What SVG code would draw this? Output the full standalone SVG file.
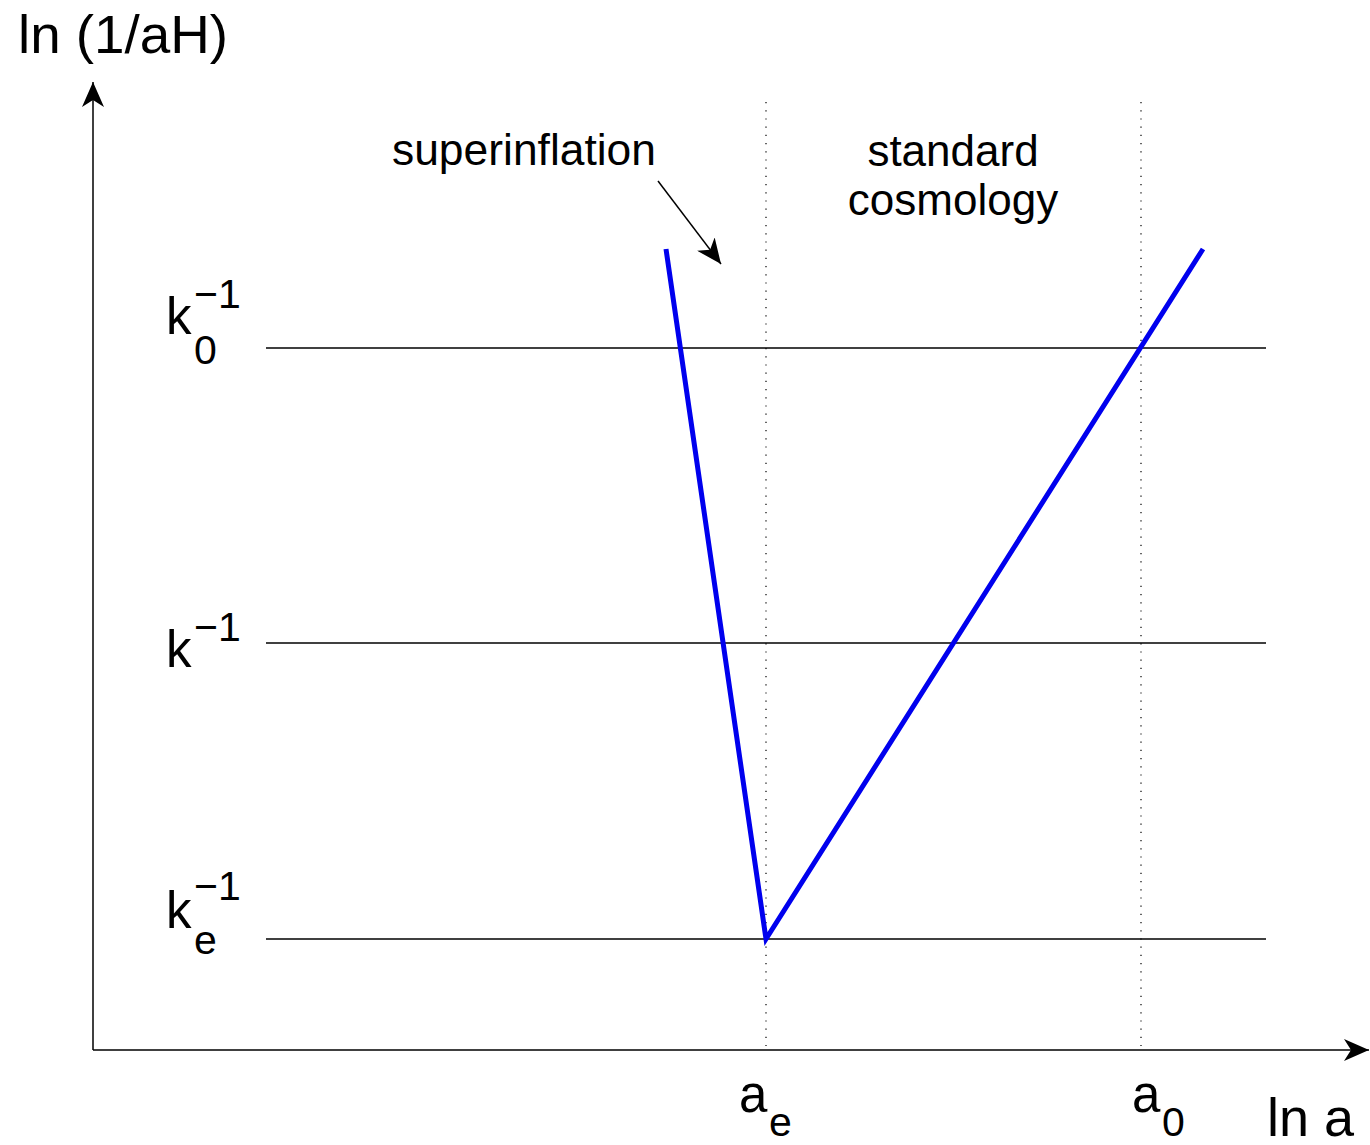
<svg xmlns="http://www.w3.org/2000/svg" width="1370" height="1145" viewBox="0 0 1370 1145">
<style>
text{font-family:"Liberation Sans",Arial,sans-serif;fill:#000}
.big{font-size:54px}
.lab{font-size:44px}
.k{font-size:51px}
.sup{font-size:41px}
.ax{stroke:#000;stroke-width:1.5;fill:none}
.hl{stroke:#000;stroke-width:1.3;fill:none}
.dot{stroke:#000;stroke-width:1.2;stroke-dasharray:1.2 7;fill:none}
</style>
<defs>
<marker id="ah" markerWidth="26" markerHeight="22" refX="25" refY="11" orient="auto" markerUnits="userSpaceOnUse">
<path d="M0,0 L25,11 L0,22 L7,11 Z" fill="#000"/>
</marker>
</defs>
<rect width="1370" height="1145" fill="#fff"/>
<g id="connectors">
<line class="ax" x1="93" y1="1050" x2="93" y2="82" marker-end="url(#ah)"/>
<line class="ax" x1="93" y1="1050" x2="1369" y2="1050" marker-end="url(#ah)"/>
<line class="hl" x1="266" y1="348" x2="1266" y2="348"/>
<line class="hl" x1="266" y1="643" x2="1266" y2="643"/>
<line class="hl" x1="266" y1="939" x2="1266" y2="939"/>
<line class="dot" x1="766" y1="102" x2="766" y2="1046"/>
<line class="dot" x1="1141" y1="102" x2="1141" y2="1046"/>
<line x1="658" y1="181" x2="721" y2="264" stroke="#000" stroke-width="1.5" marker-end="url(#ah)"/>
<polyline points="666,249 766,939 1203,249" fill="none" stroke="#0000ee" stroke-width="5"/>
</g>
<g id="ylabel"><text class="big" x="18" y="53" textLength="210" lengthAdjust="spacingAndGlyphs">ln (1/aH)</text></g>
<g id="xlabel"><text class="big" x="1267" y="1136">ln a</text></g>
<g id="superinflation"><text class="lab" x="392" y="165" textLength="264" lengthAdjust="spacingAndGlyphs">superinflation</text></g>
<g id="standard"><text class="lab" text-anchor="middle" x="953" y="166">standard</text><text class="lab" text-anchor="middle" x="953" y="215">cosmology</text></g>
<g id="k0"><text class="k" x="166" y="334">k</text><text class="sup" x="194" y="308">−1</text><text class="sup" x="194" y="364">0</text></g>
<g id="k"><text class="k" x="166" y="667">k</text><text class="sup" x="194" y="641">−1</text></g>
<g id="ke"><text class="k" x="166" y="928">k</text><text class="sup" x="194" y="900">−1</text><text class="sup" x="194" y="954">e</text></g>
<g id="ae"><text class="k" x="739" y="1112">a</text><text class="sup" x="769" y="1136">e</text></g>
<g id="a0"><text class="k" x="1132" y="1112">a</text><text class="sup" x="1162" y="1136">0</text></g>
</svg>
